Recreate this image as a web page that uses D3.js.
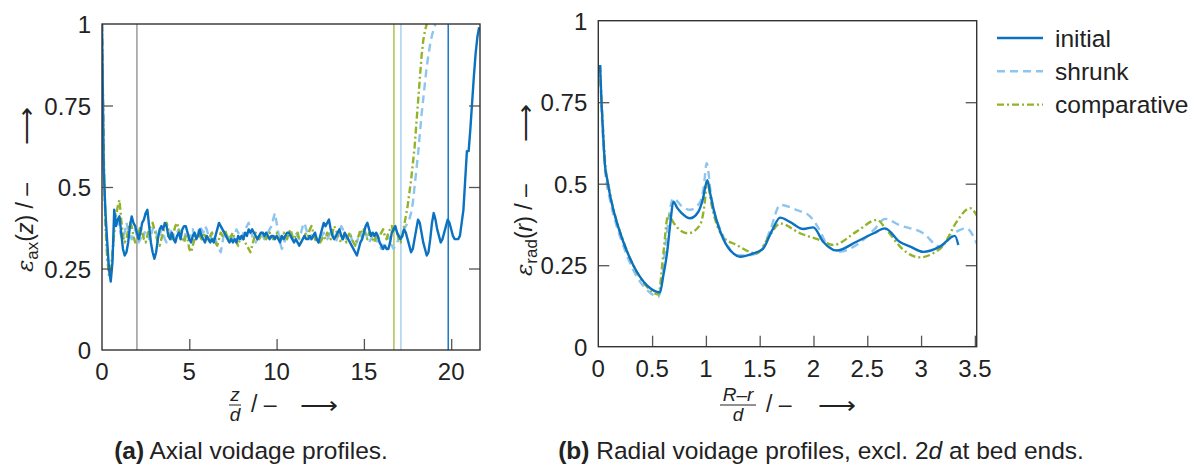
<!DOCTYPE html>
<meta charset="utf-8">
<script src="https://d3js.org/d3.v7.min.js"></script>
<style>
  body { margin: 0; background: #fff; }
  text { font-family: "Liberation Sans", Arial, sans-serif; fill: #222; }
</style>
<div id="chart"></div>
<script>
// ---- data: (a) axial profiles, sampled every 0.1 z/d ----
var axStep = 0.1;
var axInitial = [
  1.00,0.55,0.42,0.33,0.25,0.21,0.27,0.43,0.38,0.40,
  0.41,0.36,0.31,0.29,0.30,0.33,0.38,0.41,0.39,0.38,
  0.36,0.34,0.36,0.39,0.40,0.42,0.43,0.38,0.33,0.30,
  0.28,0.30,0.34,0.37,0.38,0.37,0.39,0.38,0.35,0.34,
  0.36,0.34,0.33,0.35,0.36,0.34,0.37,0.38,0.38,0.36,
  0.34,0.33,0.35,0.36,0.34,0.35,0.37,0.35,0.34,0.33,
  0.35,0.34,0.33,0.34,0.33,0.35,0.37,0.39,0.38,0.37,
  0.36,0.35,0.34,0.33,0.34,0.33,0.34,0.33,0.35,0.34,
  0.35,0.34,0.36,0.35,0.37,0.36,0.37,0.36,0.35,0.34,
  0.35,0.36,0.36,0.35,0.36,0.35,0.34,0.35,0.35,0.34,
  0.35,0.34,0.33,0.35,0.34,0.35,0.36,0.36,0.35,0.34,
  0.33,0.34,0.33,0.32,0.33,0.34,0.35,0.34,0.34,0.35,
  0.34,0.35,0.36,0.34,0.33,0.35,0.37,0.39,0.38,0.39,
  0.40,0.37,0.35,0.34,0.35,0.36,0.37,0.35,0.34,0.36,
  0.35,0.34,0.33,0.32,0.31,0.30,0.29,0.31,0.33,0.34,
  0.36,0.38,0.39,0.37,0.35,0.36,0.35,0.36,0.35,0.33,
  0.32,0.31,0.32,0.31,0.31,0.33,0.36,0.37,0.38,0.36,
  0.35,0.34,0.35,0.37,0.36,0.34,0.32,0.30,0.31,0.34,
  0.37,0.40,0.39,0.36,0.33,0.31,0.29,0.30,0.34,0.39,
  0.42,0.40,0.37,0.35,0.33,0.34,0.36,0.38,0.40,0.39,
  0.37,0.35,0.34,0.34,0.34,0.35,0.39,0.43,0.52,0.61,
  0.61,0.68,0.76,0.84,0.91,0.96,0.99
];
var axShrunk = [
  1.00,0.58,0.40,0.30,0.24,0.22,0.28,0.38,0.42,0.40,
  0.37,0.35,0.34,0.36,0.39,0.37,0.35,0.34,0.36,0.37,
  0.35,0.33,0.34,0.36,0.35,0.37,0.36,0.34,0.35,0.37,
  0.38,0.36,0.34,0.35,0.37,0.36,0.34,0.33,0.35,0.36,
  0.37,0.35,0.34,0.36,0.37,0.36,0.35,0.34,0.36,0.35,
  0.34,0.36,0.37,0.35,0.34,0.36,0.38,0.37,0.36,0.38,
  0.37,0.35,0.34,0.36,0.35,0.34,0.32,0.31,0.30,0.33,
  0.36,0.35,0.34,0.35,0.36,0.34,0.35,0.37,0.36,0.35,
  0.34,0.36,0.37,0.38,0.39,0.37,0.35,0.34,0.33,0.34,
  0.35,0.36,0.35,0.34,0.35,0.36,0.37,0.38,0.40,0.42,
  0.39,0.36,0.33,0.31,0.32,0.34,0.35,0.36,0.35,0.34,
  0.35,0.36,0.35,0.34,0.36,0.38,0.39,0.37,0.35,0.34,
  0.35,0.36,0.35,0.34,0.33,0.34,0.35,0.36,0.35,0.34,
  0.35,0.37,0.36,0.34,0.33,0.35,0.36,0.38,0.37,0.35,
  0.34,0.35,0.36,0.34,0.33,0.32,0.33,0.35,0.36,0.34,
  0.35,0.36,0.34,0.33,0.34,0.35,0.36,0.34,0.33,0.32,
  0.31,0.32,0.33,0.34,0.35,0.33,0.32,0.31,0.32,0.33,
  0.34,0.35,0.36,0.37,0.38,0.39,0.40,0.42,0.45,0.50,
  0.55,0.60,0.66,0.72,0.77,0.82,0.87,0.905,0.94,0.965,
  0.985,1.00
];
var axComparative = [
  1.00,0.60,0.38,0.28,0.23,0.24,0.30,0.36,0.41,0.44,
  0.46,0.40,0.35,0.33,0.34,0.37,0.39,0.38,0.35,0.33,
  0.34,0.36,0.38,0.36,0.34,0.33,0.35,0.37,0.38,0.39,
  0.37,0.35,0.33,0.32,0.34,0.36,0.38,0.39,0.37,0.35,
  0.34,0.36,0.38,0.39,0.37,0.35,0.34,0.33,0.35,0.34,
  0.31,0.30,0.32,0.34,0.35,0.36,0.35,0.34,0.36,0.35,
  0.34,0.33,0.35,0.36,0.34,0.33,0.32,0.34,0.36,0.35,
  0.37,0.36,0.34,0.33,0.35,0.36,0.34,0.33,0.32,0.34,
  0.35,0.34,0.33,0.32,0.31,0.30,0.32,0.34,0.36,0.35,
  0.34,0.35,0.36,0.35,0.34,0.35,0.36,0.35,0.34,0.35,
  0.36,0.35,0.34,0.35,0.36,0.35,0.34,0.36,0.37,0.35,
  0.34,0.35,0.36,0.34,0.33,0.34,0.35,0.36,0.35,0.37,
  0.38,0.36,0.34,0.33,0.34,0.33,0.34,0.35,0.34,0.36,
  0.35,0.34,0.36,0.38,0.37,0.35,0.34,0.33,0.35,0.34,
  0.33,0.35,0.36,0.34,0.33,0.32,0.34,0.35,0.37,0.36,
  0.37,0.35,0.34,0.36,0.35,0.34,0.33,0.35,0.34,0.35,
  0.36,0.37,0.35,0.34,0.36,0.37,0.38,0.36,0.37,0.36,
  0.34,0.33,0.35,0.38,0.41,0.44,0.48,0.52,0.57,0.62,
  0.69,0.76,0.83,0.90,0.95,0.98,1.00
];
// z/d positions of the vertical marker lines
var axMarkers = [2.0, 16.72, 17.12, 19.83];

// ---- data: (b) radial profiles ----
var radInitialR = [0.016,0.031,0.047,0.062,0.085,0.109,0.14,0.171,0.232,0.325,0.45,0.573,0.605,0.636,0.67,0.697,0.735,0.775,0.852,0.93,0.97,1.013,1.04,1.07,1.16,1.255,1.317,1.44,1.53,1.61,1.69,1.78,1.905,1.998,2.09,2.215,2.40,2.56,2.665,2.80,2.90,3.02,3.175,3.315,3.346];
var radInitial  = [0.864,0.741,0.639,0.557,0.51,0.465,0.42,0.383,0.322,0.25,0.189,0.167,0.22,0.28,0.38,0.445,0.425,0.41,0.394,0.414,0.45,0.511,0.47,0.424,0.332,0.286,0.276,0.286,0.30,0.353,0.396,0.383,0.361,0.366,0.322,0.295,0.322,0.348,0.363,0.322,0.307,0.291,0.307,0.34,0.312];
var radShrunkR = [0.016,0.031,0.047,0.062,0.109,0.171,0.232,0.325,0.45,0.558,0.59,0.63,0.697,0.78,0.852,0.94,0.98,1.007,1.05,1.16,1.286,1.38,1.50,1.60,1.69,1.84,1.967,2.03,2.12,2.23,2.40,2.56,2.665,2.80,3.02,3.175,3.33,3.42,3.53];
var radShrunk  = [0.864,0.72,0.62,0.545,0.45,0.37,0.31,0.235,0.175,0.153,0.2,0.33,0.455,0.43,0.42,0.44,0.49,0.563,0.46,0.34,0.281,0.28,0.29,0.36,0.435,0.42,0.40,0.373,0.317,0.291,0.312,0.358,0.392,0.373,0.348,0.307,0.353,0.363,0.307];
var radComparativeR = [0.016,0.031,0.047,0.062,0.109,0.171,0.232,0.325,0.45,0.56,0.60,0.65,0.70,0.77,0.836,0.945,0.985,1.013,1.05,1.16,1.286,1.47,1.596,1.69,1.875,2.06,2.185,2.40,2.59,2.68,2.835,2.99,3.11,3.21,3.33,3.455,3.53];
var radComparative  = [0.864,0.75,0.65,0.57,0.47,0.385,0.325,0.25,0.185,0.16,0.27,0.404,0.38,0.355,0.348,0.373,0.43,0.51,0.44,0.337,0.312,0.286,0.343,0.378,0.348,0.327,0.312,0.353,0.389,0.358,0.297,0.274,0.286,0.312,0.383,0.425,0.395];

var yTicks = [0, 0.25, 0.5, 0.75, 1];
var axXTicks = [0, 5, 10, 15, 20];
var radXTicks = [0, 0.5, 1, 1.5, 2, 2.5, 3, 3.5];
var seriesNames = ["initial", "shrunk", "comparative"];

// ---- styles ----
var colors = { initial: "#0b72c1", shrunk: "#8ec5ee", comparative: "#93b32a" };
var dashes = { initial: null, shrunk: "8,5", comparative: "7,3,2,3" };
var markerColors = ["#9a9a9a", "#a9c452", "#a8d2f0", "#1778c6"];

var svg = d3.select("#chart").append("svg")
  .attr("width", 1200).attr("height", 467);

function pairs(xs, ys) {
  return ys.map(function(v, i) { return [xs[i], v]; });
}
function gridPairs(ys) {
  return ys.map(function(v, i) { return [i * axStep, v]; });
}

function styleTicks(s) {
  s.select(".domain").remove();
  s.selectAll("line").attr("stroke", "#555").attr("stroke-width", 1.3);
}

function frame(g, x, y, xTicks, id) {
  var x0 = x.range()[0], x1 = x.range()[1], y0 = y.range()[0], y1 = y.range()[1];
  // inward ticks
  g.append("g").attr("transform", "translate(0," + y0 + ")")
    .call(d3.axisTop(x).tickValues(xTicks.filter(function(t){ return t > 0; })).tickSize(11).tickFormat(""))
    .call(styleTicks);
  g.append("g").attr("transform", "translate(" + x0 + ",0)")
    .call(d3.axisRight(y).tickValues([0.25, 0.5, 0.75]).tickSize(11).tickFormat(""))
    .call(styleTicks);
  g.append("g").attr("transform", "translate(" + x1 + ",0)")
    .call(d3.axisLeft(y).tickValues([0.25, 0.5, 0.75]).tickSize(11).tickFormat(""))
    .call(styleTicks);
  // tick labels
  g.selectAll(".xl" + id).data(xTicks).enter().append("text")
    .attr("x", function(d){ return x(d); }).attr("y", y0 + 30)
    .attr("text-anchor", "middle").style("font-size", "24px").text(function(d){ return d; });
  g.selectAll(".yl" + id).data(yTicks).enter().append("text")
    .attr("x", x0 - 11).attr("y", function(d){ return y(d) + 9; })
    .attr("text-anchor", "end").style("font-size", "24px").text(function(d){ return d; });
  // box
  g.append("rect").attr("x", x0).attr("y", y1).attr("width", x1 - x0).attr("height", y0 - y1)
    .attr("fill", "none").attr("stroke", "#333").attr("stroke-width", 1.4);
}

function drawSeries(g, x, y, data, name, curve, clipId) {
  g.append("path").datum(data)
    .attr("clip-path", "url(#" + clipId + ")")
    .attr("fill", "none")
    .attr("stroke", colors[name])
    .attr("stroke-width", 2.4)
    .attr("stroke-dasharray", dashes[name])
    .attr("stroke-linejoin", "round")
    .attr("d", d3.line().curve(curve)
      .x(function(d){ return x(d[0]); })
      .y(function(d){ return y(d[1]); }));
}

function clip(id, x, y) {
  svg.append("clipPath").attr("id", id).append("rect")
    .attr("x", x.range()[0]).attr("y", y.range()[1] - 2)
    .attr("width", x.range()[1] - x.range()[0]).attr("height", y.range()[0] - y.range()[1] + 2);
}

// ---- panel (a) ----
var xa = d3.scaleLinear().domain([0, 21.65]).range([102, 480]);
var ya = d3.scaleLinear().domain([0, 1]).range([350, 24]);
clip("clipA", xa, ya);
var ga = svg.append("g");
ga.selectAll(".marker").data(axMarkers).enter().append("line")
  .attr("x1", function(d){ return xa(d); }).attr("x2", function(d){ return xa(d); })
  .attr("y1", ya(0)).attr("y2", ya(1))
  .attr("stroke", function(d, i){ return markerColors[i]; })
  .attr("stroke-width", 1.5);
drawSeries(ga, xa, ya, gridPairs(axShrunk), "shrunk", d3.curveLinear, "clipA");
drawSeries(ga, xa, ya, gridPairs(axComparative), "comparative", d3.curveLinear, "clipA");
drawSeries(ga, xa, ya, gridPairs(axInitial), "initial", d3.curveLinear, "clipA");
frame(ga, xa, ya, axXTicks, "a");

// ---- panel (b) ----
var xb = d3.scaleLinear().domain([0, 3.517]).range([598.3, 976.7]);
var yb = d3.scaleLinear().domain([0, 1]).range([346.7, 20.7]);
clip("clipB", xb, yb);
var gb = svg.append("g");
drawSeries(gb, xb, yb, pairs(radShrunkR, radShrunk), "shrunk", d3.curveMonotoneX, "clipB");
drawSeries(gb, xb, yb, pairs(radComparativeR, radComparative), "comparative", d3.curveMonotoneX, "clipB");
drawSeries(gb, xb, yb, pairs(radInitialR, radInitial), "initial", d3.curveMonotoneX, "clipB");
frame(gb, xb, yb, radXTicks, "b");

// long thin arrow: the glyph stretched to a set length
function arrow(g, x, y, len) {
  g.append("text").attr("x", x).attr("y", y).style("font-size", "23px")
    .attr("textLength", len).attr("lengthAdjust", "spacingAndGlyphs").text("\u27F6");
}

// ---- axis titles ----
// bottom: y position where the text starts (bottom end), arrow runs from arrowBottom up by 38px
function yTitle(x, bottom, arrowBottom, sub, arg) {
  var g = svg.append("g").attr("transform", "translate(" + x + ",0) rotate(-90)");
  var t = g.append("text").attr("x", -bottom).attr("y", 0).style("font-size", "23px");
  t.append("tspan").style("font-family", "DejaVu Serif, serif").style("font-style", "italic").text("ε");
  t.append("tspan").style("font-size", "17px").attr("dy", 5).text(sub);
  t.append("tspan").attr("dy", -5).text("(");
  t.append("tspan").style("font-style", "italic").text(arg);
  t.append("tspan").text(") / –");
  arrow(g, -arrowBottom, 1, 38);
}
yTitle(33, 272, 145, "ax", "z");
yTitle(532, 276, 142, "rad", "r");

function xTitle(cx, y, numer, barW, slashX, arrowX) {
  var g = svg.append("g");
  g.append("text").attr("x", cx).attr("y", y - 3).attr("text-anchor", "middle")
    .style("font-size", "19px").style("font-style", "italic").text(numer);
  g.append("line").attr("x1", cx - barW / 2).attr("x2", cx + barW / 2)
    .attr("y1", y + 1).attr("y2", y + 1).attr("stroke", "#222").attr("stroke-width", 1);
  g.append("text").attr("x", cx).attr("y", y + 17).attr("text-anchor", "middle")
    .style("font-size", "19px").style("font-style", "italic").text("d");
  g.append("text").attr("x", slashX).attr("y", y + 8).style("font-size", "23px").text("/ –");
  arrow(g, arrowX, y + 9, 38);
}
xTitle(235, 404, "z", 12, 251, 300);
xTitle(738, 404, "R–r", 36, 766, 818);

// ---- captions ----
function caption(cx, label, parts) {
  var t = svg.append("text").attr("x", cx).attr("y", 459).attr("text-anchor", "middle").style("font-size", "24.5px");
  t.append("tspan").style("font-weight", "bold").text(label);
  parts.forEach(function(p){
    t.append("tspan").style("font-style", p[1] ? "italic" : "normal").text(p[0]);
  });
}
caption(251, "(a)", [[" Axial voidage profiles.", false]]);
caption(821, "(b)", [[" Radial voidage profiles, excl. 2", false], ["d", true], [" at bed ends.", false]]);

// ---- legend ----
var lg = svg.append("g").attr("transform", "translate(997,38)");
seriesNames.forEach(function(name, i){
  lg.append("line").attr("x1", 0).attr("x2", 46).attr("y1", i * 33.3).attr("y2", i * 33.3)
    .attr("stroke", colors[name]).attr("stroke-width", 2.4).attr("stroke-dasharray", dashes[name]);
  lg.append("text").attr("x", 58).attr("y", i * 33.3 + 8.5).style("font-size", "24.5px").text(name);
});
</script>
